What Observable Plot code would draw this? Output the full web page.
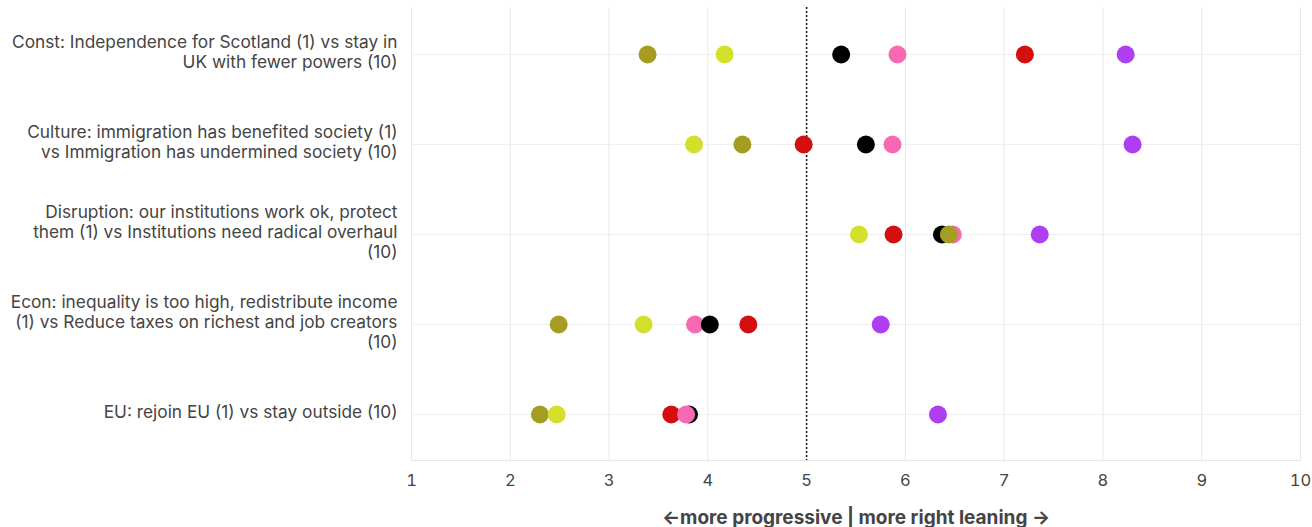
<!DOCTYPE html>
<html><head><meta charset="utf-8">
<script src="https://cdn.jsdelivr.net/npm/d3@7"></script>
<script src="https://cdn.jsdelivr.net/npm/@observablehq/plot@0.6"></script>
<style>body{margin:0;background:#fff}</style>
</head><body><div id="chart"></div>
<script>
const topics = ["Const", "Culture", "Disruption", "Econ", "EU"];
const topicLabels = [
  "Const: Independence for Scotland (1) vs stay in\nUK with fewer powers (10)",
  "Culture: immigration has benefited society (1)\nvs Immigration has undermined society (10)",
  "Disruption: our institutions work ok, protect\nthem (1) vs Institutions need radical overhaul\n(10)",
  "Econ: inequality is too high, redistribute income\n(1) vs Reduce taxes on richest and job creators\n(10)",
  "EU: rejoin EU (1) vs stay outside (10)"
];
const series = ["olive", "lime", "black", "pink", "red", "purple"];
const seriesColors = ["#a59d22", "#d3e02b", "#000000", "#f76ab3", "#d30f0f", "#ae3ff0"];
const olive  = [3.39, 4.35, 6.44, 2.49, 2.30];
const lime   = [4.17, 3.86, 5.53, 3.35, 2.47];
const black  = [5.35, 5.60, 6.37, 4.02, 3.81];
const pink   = [5.92, 5.87, 6.48, 3.87, 3.78];
const red    = [7.21, 4.97, 5.88, 4.41, 3.63];
const purple = [8.23, 8.30, 7.36, 5.75, 6.33];
const xTicks = [1, 2, 3, 4, 5, 6, 7, 8, 9, 10];
const midpoint = [5];
const xLabel = "\u2190more progressive | more right leaning \u2192";
const baseOrder = ["red", "black", "pink", "olive", "lime", "purple"];
const drawOrders = [baseOrder, baseOrder, baseOrder,
  ["red", "pink", "black", "olive", "lime", "purple"], baseOrder];

const valuesBySeries = {olive, lime, black, pink, red, purple};
const data = [];
topics.forEach((t, i) => {
  drawOrders[i].forEach(s => data.push({topic: t, series: s, value: valuesBySeries[s][i]}));
});
const labelOf = new Map(topics.map((t, i) => [t, topicLabels[i]]));

const chart = Plot.plot({
  width: 1312, height: 527,
  marginLeft: 411, marginRight: 12, marginTop: 7, marginBottom: 67,
  style: {fontFamily: "Inter, 'Open Sans', sans-serif", fontSize: "17.3px", color: "#444", background: "#fff"},
  x: {domain: [1, 10]},
  y: {domain: topics, label: null},
  color: {domain: series, range: seriesColors},
  marks: [
    Plot.gridX(xTicks, {stroke: "#e8e8e8", strokeOpacity: 1}),
    Plot.gridY(topics, {stroke: "#efefef", strokeOpacity: 1}),
    Plot.frame({anchor: "bottom", stroke: "#e8e8e8"}),
    Plot.ruleX(midpoint, {stroke: "#222", strokeDasharray: "2,2", strokeWidth: 1.6}),
    Plot.dot(data, {x: "value", y: "topic", fill: {value: "series", scale: "color"}, r: 9}),
    Plot.axisX(xTicks, {tickSize: 0, tickPadding: 14, fontSize: 16.5, label: xLabel, labelAnchor: "center", labelArrow: "none", labelOffset: 63}),
    Plot.axisY({tickSize: 0, tickPadding: 14, dy: -3, tickFormat: d => labelOf.get(d), label: null, lineHeight: 1.15})
  ]
});
chart.querySelectorAll('[aria-label="x-axis label"]').forEach(e => {
  e.setAttribute("font-weight", "bold");
  e.setAttribute("font-size", "19px");
});
document.getElementById("chart").append(chart);
</script>
</body></html>
